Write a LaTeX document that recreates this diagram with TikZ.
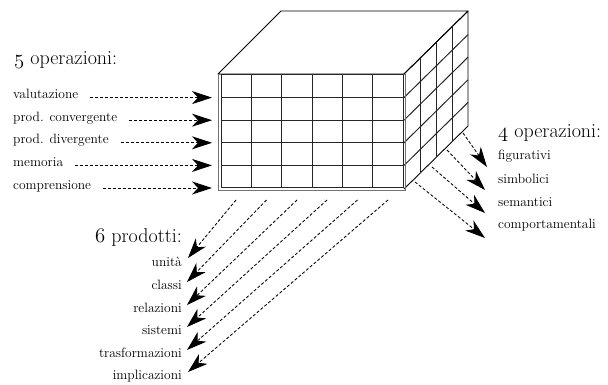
\documentclass[tikz,border=0pt]{standalone}
\usepackage{fontspec}
\usetikzlibrary{arrows.meta,calc}
\begin{document}
\begin{tikzpicture}[x=1pt,y=-1pt,
  lab/.style={inner sep=0pt,font=\fontsize{13.5}{15}\selectfont},
  ttl/.style={inner sep=0pt,font=\fontsize{20}{22}\selectfont},
  edge/.style={line width=0.9pt,black},
  gridline/.style={line width=1pt,black!85},
  dasharr/.style={line width=0.85pt,dash pattern=on 3pt off 2pt,
     -{Stealth[length=20pt,width=13pt,inset=6pt]}}]
\useasboundingbox (0,0) rectangle (608,385);
% ---- cube ----
\coordinate (FL) at (218,74);
\coordinate (FR) at (404,74);
\coordinate (BR) at (468,11);
\coordinate (BL) at (281,11);
\coordinate (BRB) at (468,126);
\coordinate (FRB) at (404,189);
\draw[edge,line join=round] (FL) -- (BL) -- (BR) -- (FR) -- cycle;
\draw[edge,line join=round] (FR) -- (BR) -- (BRB) -- (FRB);
% right face grid
\foreach \k in {1,2,3} {
  \draw[gridline] ($(FR)!\k/4!(BR)$) -- ($(FRB)!\k/4!(BRB)$);
}
\foreach \y in {97.6,120.2,142.8,165.4} {
  \draw[gridline] (404,\y) -- ++(64,-63);
}
% front face
\draw[black!55,line width=0.8pt] (218,74) rectangle (405,190);
\draw[gridline] (221,75) rectangle (403,188);
\foreach \i in {1,...,5} {
  \draw[gridline] ({221+\i*30.333},75) -- ({221+\i*30.333},188);
}
\foreach \y in {97.6,120.2,142.8,165.4} {
  \draw[gridline] (221,\y) -- (403,\y);
}
% ---- left: 5 operazioni ----
\node[ttl,anchor=base west] (t5) at (14,65) {$\mathnormal{5}$ operazioni:};
\node[lab,anchor=base west] (o1) at (13,99) {valutazione};
\node[lab,anchor=base west] (o2) at (13,121.5) {prod. convergente};
\node[lab,anchor=base west] (o3) at (13,144) {prod. divergente};
\node[lab,anchor=base west] (o4) at (13,167) {memoria};
\node[lab,anchor=base west] (o5) at (13,189.5) {comprensione};
\coordinate (a1) at (212,97.6);
\coordinate (a2) at (212,120.2);
\coordinate (a3) at (212,142.8);
\coordinate (a4) at (212,165.4);
\coordinate (a5) at (212,188);
\foreach \n in {1,...,5} {
  \draw[dasharr] ([xshift=12pt]o\n.east |- a\n) -- (a\n);
}
% ---- right: 4 operazioni ----
\node[ttl,anchor=base west] (t4) at (498,138) {$\mathnormal{4}$ operazioni:};
\node[lab,anchor=base west] (c1) at (498,160) {figurativi};
\node[lab,anchor=base west] (c2) at (498,184) {simbolici};
\node[lab,anchor=base west] (c3) at (498,207) {semantici};
\node[lab,anchor=base west] (c4) at (498,229) {comportamentali};
\coordinate (rs1) at (463,133);
\coordinate (rs2) at (447,150);
\coordinate (rs3) at (432,167);
\coordinate (rs4) at (415,182);
\coordinate (re1) at (487,167);
\coordinate (re2) at (485,190);
\coordinate (re3) at (485,213);
\coordinate (re4) at (485,238);
\foreach \n in {1,...,4} {
  \draw[dasharr] (rs\n) -- (re\n);
}
% ---- bottom: 6 prodotti ----
\node[ttl,anchor=base west] (t6) at (95,242) {$\mathnormal{6}$ prodotti:};
\node[lab,anchor=base east] (p1) at (182,266) {unità};
\node[lab,anchor=base east] (p2) at (182,289) {classi};
\node[lab,anchor=base east] (p3) at (182,312) {relazioni};
\node[lab,anchor=base east] (p4) at (182,334.5) {sistemi};
\node[lab,anchor=base east] (p5) at (182,357) {trasformazioni};
\node[lab,anchor=base east] (p6) at (182,379.5) {implicazioni};
\coordinate (ps1) at (236,200);
\coordinate (ps2) at (266.5,200);
\coordinate (ps3) at (297,200);
\coordinate (ps4) at (327,200);
\coordinate (ps5) at (357.5,200);
\coordinate (ps6) at (388,200);
\coordinate (pe1) at (188,258);
\coordinate (pe2) at (187,282);
\coordinate (pe3) at (187,305);
\coordinate (pe4) at (187,327);
\coordinate (pe5) at (187,350);
\coordinate (pe6) at (188,372);
\foreach \n in {1,...,6} {
  \draw[dasharr] (ps\n) -- (pe\n);
}
\end{tikzpicture}
\end{document}
